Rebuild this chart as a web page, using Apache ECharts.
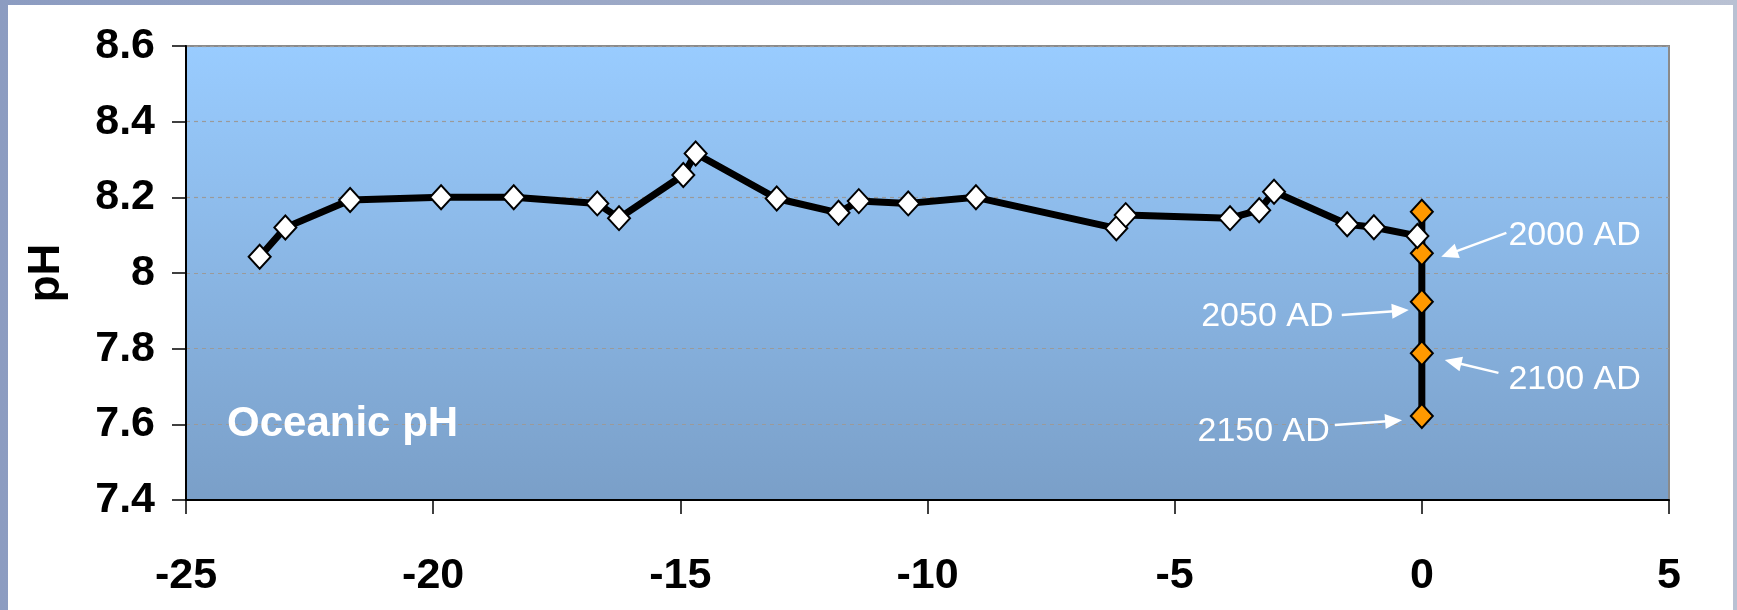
<!DOCTYPE html>
<html><head><meta charset="utf-8">
<script src="https://cdn.jsdelivr.net/npm/echarts@6/dist/echarts.min.js"></script>
<style>
html,body{margin:0;padding:0;width:1737px;height:610px;overflow:hidden;background:linear-gradient(to right,#8c9cc1,#a4afc9 55%,#b9c1d3);}
#chart{position:absolute;left:8px;top:5px;width:1725px;height:605px;background:#fff;}
</style></head><body><div id="chart"></div>
<script>
// ---- data (millions of years before present vs. oceanic pH) ----
const historyAge = [-23.51, -22.99, -21.68, -19.84, -18.37, -16.68, -16.24, -14.94, -14.69, -13.05, -11.80, -11.39, -10.39, -9.02, -6.18, -5.99, -3.88, -3.29, -2.99, -1.51, -0.97, -0.09];
const historyPH  = [8.043, 8.120, 8.193, 8.200, 8.200, 8.184, 8.145, 8.259, 8.316, 8.197, 8.159, 8.190, 8.184, 8.200, 8.118, 8.153, 8.145, 8.166, 8.215, 8.129, 8.121, 8.098];
const projectionAge = [0, 0, 0, 0, 0];
const projectionPH  = [8.162, 8.052, 7.924, 7.788, 7.622];
const xTicks = [-25, -20, -15, -10, -5, 0, 5];
const yTicks = [7.4, 7.6, 7.8, 8.0, 8.2, 8.4, 8.6];
const annotationLabels = ['2000 AD', '2050 AD', '2100 AD', '2150 AD'];
const chartLabel = 'Oceanic pH';
const yAxisTitle = 'pH';

// ---- layout of annotations (data coordinates) ----
const annotationLayout = [
  {text: [3.09, 8.100],  from: [1.71, 8.106],  to: [0.393, 8.043]},
  {text: [-3.125, 7.886], from: [-1.62, 7.889], to: [-0.263, 7.902]},
  {text: [3.09, 7.717],  from: [1.55, 7.736],  to: [0.463, 7.770]},
  {text: [-3.20, 7.580], from: [-1.76, 7.598], to: [-0.40, 7.611]}
];
const chartLabelPos = [-24.17, 7.60];

const FONT = '"Liberation Sans", Arial, sans-serif';
const chart = echarts.init(document.getElementById('chart'), null, {renderer: 'canvas'});

const option = {
  animation: false,
  grid: {
    left: 178, right: 64, top: 41, bottom: 110,
    show: true,
    borderColor: '#8a8a8a', borderWidth: 2,
    backgroundColor: {type: 'linear', x: 0, y: 0, x2: 0, y2: 1,
      colorStops: [{offset: 0, color: '#99ccff'}, {offset: 1, color: '#7a9fc8'}]}
  },
  xAxis: {
    type: 'value', min: xTicks[0], max: xTicks[xTicks.length - 1], interval: 5,
    axisLine: {show: true, onZero: false, lineStyle: {color: '#000', width: 2}},
    axisTick: {show: true, length: 14, lineStyle: {color: '#000', width: 1.5}},
    splitLine: {show: false},
    axisLabel: {color: '#000', fontFamily: FONT, fontWeight: 'bold', fontSize: 43, margin: 55}
  },
  yAxis: {
    type: 'value', min: yTicks[0], max: yTicks[yTicks.length - 1], interval: 0.2,
    name: yAxisTitle, nameLocation: 'middle', nameRotate: 90, nameGap: 117,
    nameTextStyle: {color: '#000', fontFamily: FONT, fontWeight: 'bold', fontSize: 44},
    axisLine: {show: true, onZero: false, lineStyle: {color: '#000', width: 2}},
    axisTick: {show: true, length: 14, lineStyle: {color: '#000', width: 1.5}},
    splitLine: {show: true, lineStyle: {color: '#9a9a9a', width: 1.2, type: [4, 4]}},
    axisLabel: {color: '#000', fontFamily: FONT, fontWeight: 'bold', fontSize: 43, margin: 31,
      formatter: v => String(+v.toFixed(1))}
  },
  series: [
    {
      name: 'projection', type: 'line', z: 2,
      data: projectionAge.map((a, i) => [a, projectionPH[i]]),
      lineStyle: {color: '#000', width: 7},
      symbol: 'diamond', symbolSize: [22, 24],
      itemStyle: {color: '#ff9900', borderColor: '#000', borderWidth: 2}
    },
    {
      name: 'history', type: 'line', z: 3,
      data: historyAge.map((a, i) => [a, historyPH[i]]),
      lineStyle: {color: '#000', width: 7},
      symbol: 'diamond', symbolSize: [22, 24],
      itemStyle: {color: '#ffffff', borderColor: '#000', borderWidth: 2}
    }
  ]
};
chart.setOption(option);

// ---- annotations drawn from data coordinates ----
function px(p) { return chart.convertToPixel({gridIndex: 0}, p); }
const elements = [];
const tl = px(chartLabelPos);
elements.push({type: 'text', z: 10, style: {text: chartLabel, x: tl[0], y: tl[1], fill: '#fff',
  font: 'bold 42px ' + FONT, textAlign: 'left', textVerticalAlign: 'middle'}});
annotationLayout.forEach((a, i) => {
  const t = px(a.text), s = px(a.from), e = px(a.to);
  elements.push({type: 'text', z: 10, style: {text: annotationLabels[i], x: t[0], y: t[1], fill: '#fff',
    font: '34px ' + FONT, textAlign: 'center', textVerticalAlign: 'middle'}});
  const dx = e[0] - s[0], dy = e[1] - s[1], len = Math.hypot(dx, dy);
  const ux = dx / len, uy = dy / len, L = 17, W = 7.5;
  const bx = e[0] - ux * L, by = e[1] - uy * L;
  elements.push({type: 'line', z: 10, shape: {x1: s[0], y1: s[1], x2: bx + ux * 2, y2: by + uy * 2},
    style: {stroke: '#fff', lineWidth: 2.5}});
  elements.push({type: 'polygon', z: 10, shape: {points: [[e[0], e[1]], [bx - uy * W, by + ux * W], [bx + uy * W, by - ux * W]]},
    style: {fill: '#fff'}});
});
chart.setOption({graphic: {elements: elements}});
</script></body></html>
